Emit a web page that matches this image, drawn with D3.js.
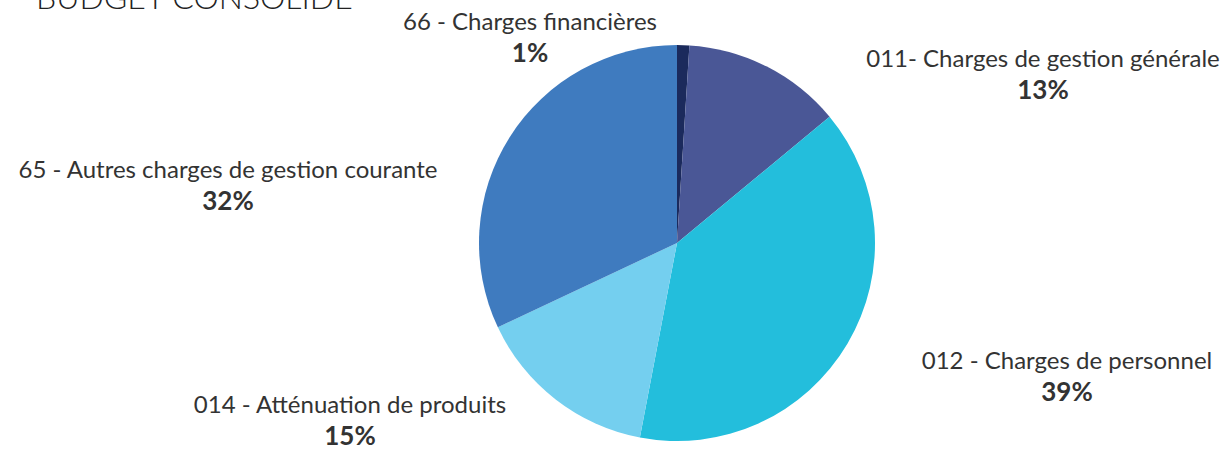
<!DOCTYPE html>
<html>
<head>
<meta charset="utf-8">
<script src="https://d3js.org/d3.v7.min.js"></script>
<style>
  body { margin: 0; background: #fff; }
  text { font-family: Lato, "Open Sans", sans-serif; fill: #333; }
</style>
</head>
<body>
<svg width="1224" height="450"></svg>
<script>
// Data
var categories = ["66 - Charges financières", "011- Charges de gestion générale",
                  "012 - Charges de personnel", "014 - Atténuation de produits",
                  "65 - Autres charges de gestion courante"];
var values = [1, 13, 39, 15, 32];
var colors = ["#1b2a5c", "#4a5796", "#23bedc", "#74cfef", "#3f7bbf"];

// Label anchors (center x, baseline of name)
var labelPos = [[530, 30], [1043, 67], [1067, 369], [350, 413], [228, 178]];

var svg = d3.select("svg");
var cx = 677, cy = 243, r = 198;

// Title, cropped at the top as in the source picture
svg.append("text")
    .attr("x", 36).attr("y", 9)
    .style("font-size", "32px")
    .style("font-weight", 300)
    .style("fill", "#222")
    .text("BUDGET CONSOLIDÉ");

var pie = d3.pie().sort(null).value(function(d) { return d; });
var arc = d3.arc().innerRadius(0).outerRadius(r);

var g = svg.append("g").attr("transform", "translate(" + cx + "," + cy + ")");
g.selectAll("path")
    .data(pie(values))
    .enter().append("path")
    .attr("d", arc)
    .attr("fill", function(d, i) { return colors[i]; });

var labels = svg.selectAll("g.label")
    .data(categories)
    .enter().append("g")
    .attr("class", "label")
    .attr("transform", function(d, i) { return "translate(" + labelPos[i][0] + "," + labelPos[i][1] + ")"; });

labels.append("text")
    .attr("text-anchor", "middle")
    .style("font-size", "24px")
    .text(function(d) { return d; });

labels.append("text")
    .attr("text-anchor", "middle")
    .attr("y", 32)
    .style("font-size", "26px")
    .style("font-weight", "bold")
    .text(function(d, i) { return values[i] + "%"; });
</script>
</body>
</html>
